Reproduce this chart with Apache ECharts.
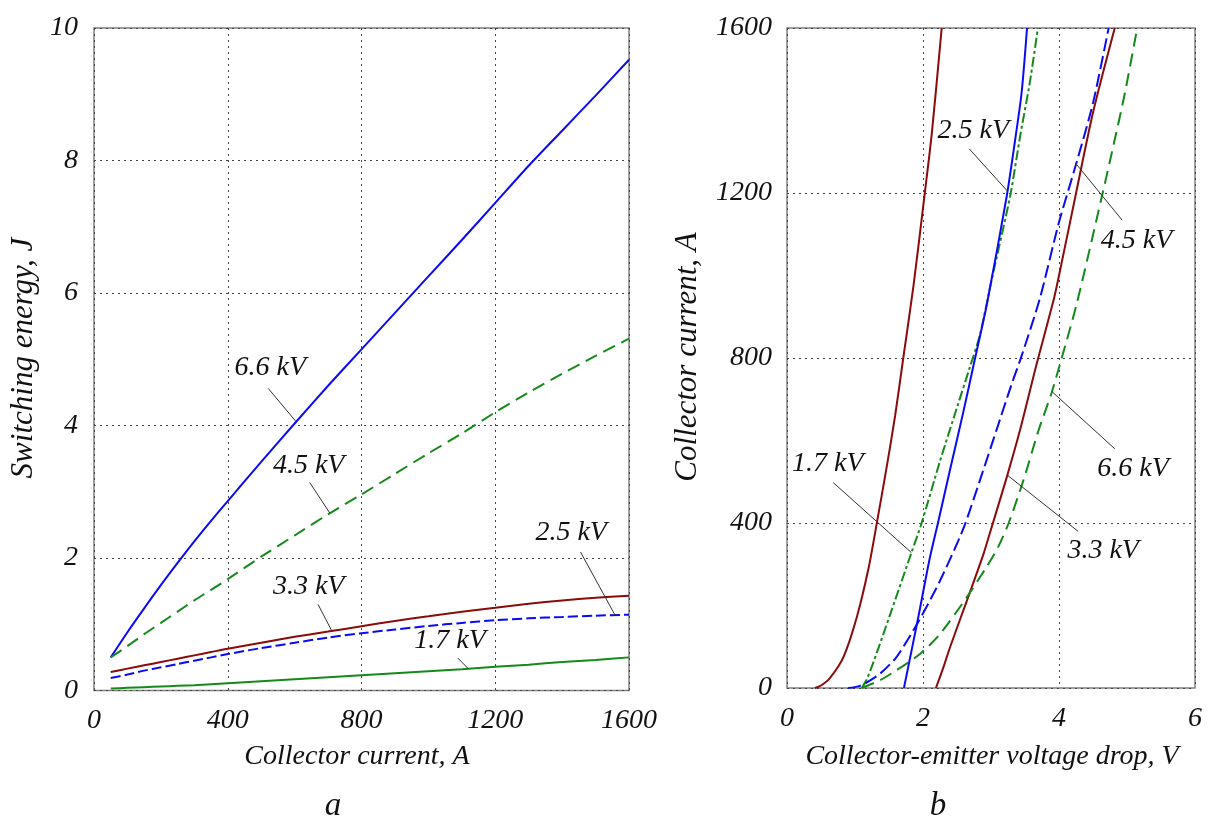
<!DOCTYPE html>
<html>
<head>
<meta charset="utf-8">
<script src="https://cdn.jsdelivr.net/npm/echarts@6/dist/echarts.min.js"></script>
<style>
  html, body { margin: 0; padding: 0; background: #fff; }
  #chart { width: 1211px; height: 821px; }
</style>
</head>
<body>
<div id="chart"></div>
<script>
// ---- (a) switching energy vs collector current ----
const currentA = [50, 100, 150, 200, 250, 300, 350, 400, 500, 600, 700, 800, 900, 1000, 1100, 1200, 1300, 1400, 1500, 1600];
const energy66 = [0.5, 0.88, 1.24, 1.59, 1.925, 2.25, 2.56, 2.86, 3.45, 4.03, 4.6, 5.15, 5.7, 6.25, 6.8, 7.36, 7.92, 8.45, 8.98, 9.52];
const energy45 = [0.5, 0.67, 0.85, 1.02, 1.19, 1.36, 1.52, 1.68, 2.02, 2.34, 2.66, 2.96, 3.27, 3.58, 3.88, 4.2, 4.5, 4.78, 5.05, 5.31];
const energy33 = [0.28, 0.33, 0.38, 0.43, 0.48, 0.53, 0.58, 0.63, 0.72, 0.81, 0.89, 0.97, 1.05, 1.12, 1.19, 1.25, 1.31, 1.36, 1.40, 1.43];
const energy25 = [0.19, 0.24, 0.30, 0.35, 0.40, 0.45, 0.50, 0.55, 0.64, 0.72, 0.80, 0.865, 0.92, 0.975, 1.02, 1.06, 1.09, 1.11, 1.13, 1.145];
const energy17 = [0.03, 0.04, 0.05, 0.06, 0.07, 0.08, 0.095, 0.11, 0.14, 0.17, 0.20, 0.23, 0.26, 0.29, 0.32, 0.36, 0.39, 0.43, 0.46, 0.50];
const currentTicks = [0, 400, 800, 1200, 1600];
const energyTicks = [0, 2, 4, 6, 8, 10];

// ---- (b) on-state characteristics: [voltage drop V, collector current A] ----
const ivRedLow = [[0.41, 0], [0.5, 6], [0.63, 24], [0.83, 75], [1.025, 171], [1.20, 291], [1.32, 399], [1.46, 530], [1.59, 660], [1.71, 800], [1.86, 975], [2.02, 1191], [2.13, 1345], [2.275, 1600]];
const iv17 = [[1.10, 0], [1.17, 20], [1.27, 62], [1.51, 175], [1.83, 328], [1.98, 400], [2.25, 550], [2.50, 680], [2.69, 778], [2.84, 858], [3.01, 990], [3.28, 1191], [3.43, 1339], [3.57, 1467], [3.69, 1600]];
const iv25 = [[1.72, 0], [1.93, 171], [2.10, 315], [2.22, 400], [2.40, 531], [2.59, 667], [2.76, 795], [2.94, 931], [3.23, 1191], [3.35, 1323], [3.45, 1443], [3.53, 1600]];
const iv33 = [[2.19, 0], [2.30, 50], [2.40, 100], [2.69, 232], [2.89, 325], [3.01, 390], [3.23, 510], [3.43, 627], [3.67, 785], [3.92, 940], [4.0, 1000], [4.24, 1191], [4.50, 1395], [4.82, 1600]];
const iv45 = [[0.9, 0], [1.05, 4], [1.147, 11], [1.37, 35], [1.61, 75], [1.93, 160], [2.25, 260], [2.59, 385], [2.84, 505], [3.08, 625], [3.30, 735], [3.45, 805], [3.72, 945], [3.99, 1123], [4.26, 1275], [4.50, 1418], [4.73, 1600]];
const iv66 = [[1.10, 0], [1.37, 19], [1.61, 43], [1.96, 83], [2.25, 131], [2.64, 219], [2.94, 295], [3.10, 340], [3.26, 400], [3.48, 505], [3.70, 625], [3.89, 715], [4.04, 800], [4.26, 931], [4.63, 1191], [4.80, 1315], [4.97, 1443], [5.15, 1600]];
const voltageTicks = [0, 2, 4, 6];
const ivCurrentTicks = [0, 400, 800, 1200, 1600];

// curve labels with leader lines, in axis units: text centre, leader start, leader end
const notesA = [
  { text: '6.6 kV', at: [527, 4.87], from: [521, 4.56], to: [604, 4.06] },
  { text: '4.5 kV', at: [642, 3.39], from: [645, 3.14], to: [705, 2.68] },
  { text: '3.3 kV', at: [642, 1.57], from: [670, 1.30], to: [710, 0.91] },
  { text: '2.5 kV', at: [1427, 2.38], from: [1455, 2.09], to: [1558, 1.14] },
  { text: '1.7 kV', at: [1065, 0.76], from: [1088, 0.49], to: [1119, 0.33] }
];
const notesB = [
  { text: '2.5 kV', at: [2.74, 1352], from: [2.68, 1307], to: [3.24, 1205] },
  { text: '4.5 kV', at: [5.14, 1085], from: [4.93, 1134], to: [4.25, 1271] },
  { text: '1.7 kV', at: [0.60, 544], from: [0.68, 498], to: [1.83, 328] },
  { text: '6.6 kV', at: [5.09, 532], from: [4.82, 580], to: [3.90, 718] },
  { text: '3.3 kV', at: [4.65, 332], from: [4.28, 380], to: [3.24, 516] }
];

const FONT = "'Liberation Serif', 'Times New Roman', serif";
const BLUE = '#0a0af5';
const GREEN = '#15891a';
const RED = '#8b0a0a';
const INK = '#111';

const gridDots = { show: true, lineStyle: { color: '#444', width: 1, type: [2, 4] } };
const tickText = { fontFamily: FONT, fontStyle: 'italic', fontSize: 28, color: INK, formatter: v => String(v) };

function curve(name, xi, yi, data, color, dash) {
  return {
    name, type: 'line', xAxisIndex: xi, yAxisIndex: yi, data,
    showSymbol: false, smooth: 0.25, silent: true, animation: false,
    lineStyle: { color, width: 2, type: dash || 'solid' }, z: 3
  };
}

function noteSeries(notes, xi, yi) {
  const out = [];
  notes.forEach(n => {
    out.push({
      type: 'line', xAxisIndex: xi, yAxisIndex: yi, data: [n.from, n.to],
      showSymbol: false, silent: true, animation: false,
      lineStyle: { color: '#333', width: 1 }, z: 4
    });
  });
  out.push({
    type: 'scatter', xAxisIndex: xi, yAxisIndex: yi,
    data: notes.map(n => [n.at[0], n.at[1], n.text]),
    symbolSize: 1, itemStyle: { color: 'transparent', opacity: 1 }, silent: true, animation: false,
    label: {
      show: true, position: 'inside', formatter: p => p.value[2],
      fontFamily: FONT, fontStyle: 'italic', fontSize: 28, color: INK,
      textBorderWidth: 0, opacity: 1
    }, z: 5
  });
  return out;
}

const option = {
  backgroundColor: '#fff',
  animation: false,
  grid: [
    { left: 94, right: 582, top: 28, bottom: 130.5, show: true, borderColor: '#808080', borderWidth: 1.5, backgroundColor: 'transparent' },
    { left: 787, right: 16, top: 28, bottom: 133, show: true, borderColor: '#808080', borderWidth: 1.5, backgroundColor: 'transparent' }
  ],
  xAxis: [
    { gridIndex: 0, type: 'value', min: currentTicks[0], max: currentTicks[currentTicks.length - 1], interval: currentTicks[1] - currentTicks[0],
      axisLine: { show: false }, axisTick: { show: false }, splitLine: gridDots,
      axisLabel: Object.assign({ margin: 16 }, tickText) },
    { gridIndex: 1, type: 'value', min: voltageTicks[0], max: voltageTicks[voltageTicks.length - 1], interval: voltageTicks[1] - voltageTicks[0],
      axisLine: { show: false }, axisTick: { show: false }, splitLine: gridDots,
      axisLabel: Object.assign({ margin: 17 }, tickText) }
  ],
  yAxis: [
    { gridIndex: 0, type: 'value', min: energyTicks[0], max: energyTicks[energyTicks.length - 1], interval: energyTicks[1] - energyTicks[0],
      axisLine: { show: false }, axisTick: { show: false }, splitLine: gridDots,
      axisLabel: Object.assign({ margin: 16 }, tickText) },
    { gridIndex: 1, type: 'value', min: ivCurrentTicks[0], max: ivCurrentTicks[ivCurrentTicks.length - 1], interval: ivCurrentTicks[1] - ivCurrentTicks[0],
      axisLine: { show: false }, axisTick: { show: false }, splitLine: gridDots,
      axisLabel: Object.assign({ margin: 15 }, tickText) }
  ],
  series: [
    curve('6.6 kV', 0, 0, currentA.map((a, i) => [a, energy66[i]]), BLUE),
    curve('4.5 kV', 0, 0, currentA.map((a, i) => [a, energy45[i]]), GREEN, [13, 7]),
    curve('3.3 kV', 0, 0, currentA.map((a, i) => [a, energy33[i]]), RED),
    curve('2.5 kV', 0, 0, currentA.map((a, i) => [a, energy25[i]]), BLUE, [10, 4]),
    curve('1.7 kV', 0, 0, currentA.map((a, i) => [a, energy17[i]]), GREEN),
    ...noteSeries(notesA, 0, 0),

    curve('low-drop', 1, 1, ivRedLow, RED),
    curve('1.7 kV', 1, 1, iv17, GREEN, [10, 3, 3, 3]),
    curve('2.5 kV', 1, 1, iv25, BLUE),
    curve('3.3 kV', 1, 1, iv33, RED),
    curve('4.5 kV', 1, 1, iv45, BLUE, [13, 5]),
    curve('6.6 kV', 1, 1, iv66, GREEN, [13, 7]),
    ...noteSeries(notesB, 1, 1)
  ],
  graphic: [
    { type: 'text', x: 24, y: 358, rotation: Math.PI / 2,
      style: { text: 'Switching energy, J', font: 'italic 31px ' + FONT, fill: INK, align: 'center', verticalAlign: 'middle' } },
    { type: 'text', x: 357, y: 757,
      style: { text: 'Collector current, A', font: 'italic 28px ' + FONT, fill: INK, align: 'center', verticalAlign: 'middle' } },
    { type: 'text', x: 333, y: 806,
      style: { text: 'a', font: 'italic 33px ' + FONT, fill: INK, align: 'center', verticalAlign: 'middle' } },
    { type: 'text', x: 688, y: 357, rotation: Math.PI / 2,
      style: { text: 'Collector current, A', font: 'italic 31px ' + FONT, fill: INK, align: 'center', verticalAlign: 'middle' } },
    { type: 'text', x: 992, y: 757,
      style: { text: 'Collector-emitter voltage drop, V', font: 'italic 28px ' + FONT, fill: INK, align: 'center', verticalAlign: 'middle' } },
    { type: 'text', x: 938, y: 806,
      style: { text: 'b', font: 'italic 33px ' + FONT, fill: INK, align: 'center', verticalAlign: 'middle' } }
  ]
};

const chart = echarts.init(document.getElementById('chart'), null, { renderer: 'canvas' });
chart.setOption(option);
</script>
</body>
</html>
